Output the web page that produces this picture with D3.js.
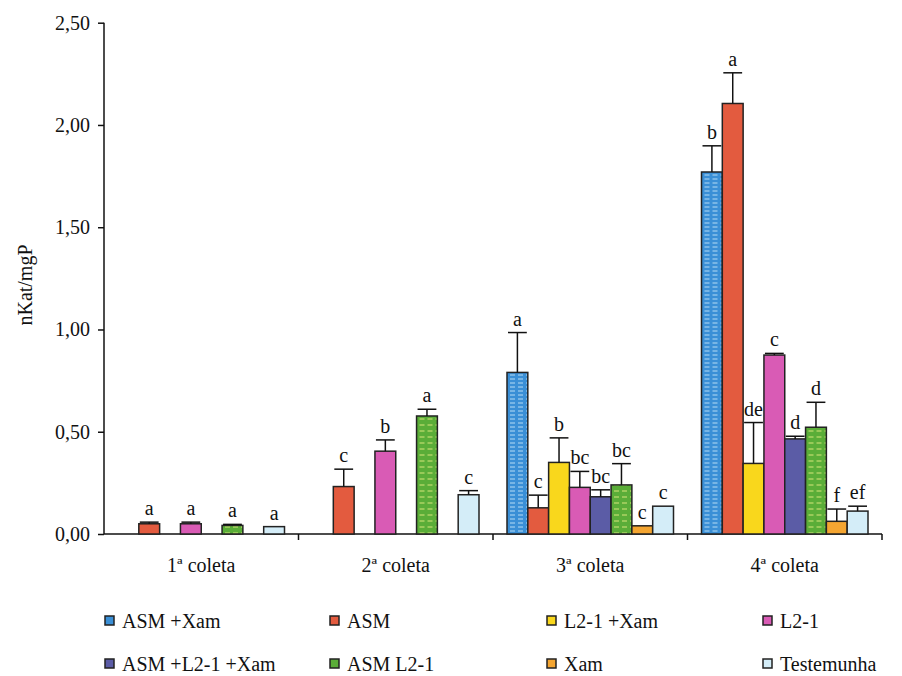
<!DOCTYPE html>
<html><head><meta charset="utf-8">
<script src="https://cdn.jsdelivr.net/npm/d3@7"></script>
<style>body{margin:0;background:#fff}svg text{font-family:"Liberation Serif","Times New Roman",serif;fill:#111}</style>
</head><body><svg id="c" width="902" height="676" font-family="Liberation Serif, serif"></svg>
<script>
const groups = ["1ª coleta","2ª coleta","3ª coleta","4ª coleta"];
const series = ["ASM +Xam","ASM","L2-1 +Xam","L2-1","ASM +L2-1 +Xam","ASM L2-1","Xam","Testemunha"];
// values per group, in series order (null = not present)
const g1 = [null,0.050,null,0.050,null,0.042,null,0.036];
const g2 = [null,0.232,null,0.405,null,0.577,null,0.192];
const g3 = [0.790,0.128,0.350,0.228,0.182,0.240,0.040,0.136];
const g4 = [1.770,2.105,0.345,0.875,0.465,0.522,0.062,0.112];
const e1 = [null,0.008,null,0.008,null,0.005,null,0];
const e2 = [null,0.085,null,0.055,null,0.033,null,0.020];
const e3 = [0.195,0.062,0.120,0.078,0.034,0.104,0,0];
const e4 = [0.128,0.150,0.200,0.008,0.013,0.122,0.060,0.024];
const l1 = [null,"a",null,"a",null,"a",null,"a"];
const l2 = [null,"c",null,"b",null,"a",null,"c"];
const l3 = ["a","c","b","bc","bc","bc","c","c"];
const l4 = ["b","a","de","c","d","d","f","ef"];
const yTicks = [0,0.5,1.0,1.5,2.0,2.5];
const colors = ["#3a8fd6","#e35b3f","#f9d71c","#d95bb5","#5b5ca6","#5aad38","#f4a531","#d4edf8"];

const FONT="Liberation Serif, Times New Roman, serif";
const vals=[g1,g2,g3,g4], errs=[e1,e2,e3,e4], lets=[l1,l2,l3,l4];
const svg=d3.select("#c");
const defs=svg.append("defs");
function pat(id,bg,line,h){
  const p=defs.append("pattern").attr("id",id).attr("patternUnits","userSpaceOnUse").attr("width",8).attr("height",h);
  p.append("rect").attr("width",8).attr("height",h).attr("fill",bg);
  p.append("line").attr("x1",1).attr("x2",6).attr("y1",h-1).attr("y2",h-1).attr("stroke",line).attr("stroke-width",1);
}
pat("pBlue","#3a8fd6","#b5dcf5",4);
pat("pGreen","#5aad38","#d7e67a",6);
const fills=colors.map((c,i)=>i===0?"url(#pBlue)":i===5?"url(#pGreen)":c);

const y=d3.scaleLinear().domain([0,2.5]).range([534,22.7]);
const x0=d3.scaleBand().domain(groups).range([104,882]);
const x1=d3.scaleBand().domain(d3.range(8)).range([14,x0.bandwidth()-14]);

// y axis
const ya=svg.append("g").attr("transform","translate(104,0)")
 .call(d3.axisLeft(y).tickValues(yTicks).tickSize(6).tickFormat(d=>d3.format(".2f")(d).replace(".",",")));
ya.attr("font-family",FONT);
ya.selectAll("path,line").attr("stroke","#111").attr("stroke-width",1.5);
ya.selectAll("text").attr("font-size",20).attr("x",-14).attr("font-family",FONT);
ya.select(".domain").attr("d","M0,22.7V534");

// x axis
const xa=svg.append("g").attr("transform","translate(0,534)");
xa.append("line").attr("x1",104).attr("x2",882).attr("stroke","#111").attr("stroke-width",1.5);
xa.selectAll("line.t").data(groups.slice(1).concat(["end"])).enter().append("line")
 .attr("x1",(d,i)=>i<3?x0(d):882).attr("x2",(d,i)=>i<3?x0(d):882).attr("y1",0).attr("y2",6)
 .attr("stroke","#111").attr("stroke-width",1.5);
xa.selectAll("text").data(groups).enter().append("text")
 .attr("x",d=>x0(d)+x0.bandwidth()/2).attr("y",38).attr("text-anchor","middle").attr("font-size",20)
 .attr("font-family",FONT).text(d=>d);

svg.append("text").attr("transform","translate(32,285) rotate(-90)").attr("text-anchor","middle")
 .attr("font-size",20).attr("font-family",FONT).text("nKat/mgP");

groups.forEach((g,gi)=>{
  const gg=svg.append("g").attr("transform",`translate(${x0(g)},0)`);
  vals[gi].forEach((v,si)=>{
    if(v==null) return;
    const bx=x1(si), bw=x1.bandwidth(), cx=bx+bw/2;
    gg.append("rect").attr("x",bx).attr("y",y(v)).attr("width",bw).attr("height",y(0)-y(v))
      .attr("fill",fills[si]).attr("stroke","#222").attr("stroke-width",1.5);
    const e=errs[gi][si]; let top=y(v);
    if(e>0){
      top=y(v+e);
      gg.append("line").attr("x1",cx).attr("x2",cx).attr("y1",y(v)).attr("y2",top).attr("stroke","#111").attr("stroke-width",1.5);
      gg.append("line").attr("x1",bx+1).attr("x2",bx+bw-1).attr("y1",top).attr("y2",top).attr("stroke","#111").attr("stroke-width",1.5);
    }
    gg.append("text").attr("x",cx).attr("y",top-7).attr("text-anchor","middle").attr("font-size",20)
      .attr("font-family",FONT).text(lets[gi][si]);
  });
});

// legend
const lx=[105,330,547,763], ly=[621,664];
series.forEach((s,i)=>{
  const r=Math.floor(i/4), c=i%4;
  const gL=svg.append("g").attr("transform",`translate(${lx[c]},${ly[r]})`);
  gL.append("rect").attr("x",0).attr("y",-5).attr("width",9).attr("height",9)
    .attr("fill",colors[i]).attr("stroke","#222").attr("stroke-width",1.5);
  gL.append("text").attr("x",17).attr("y",7).attr("font-size",20).attr("font-family",FONT).text(s);
});
</script></body></html>
